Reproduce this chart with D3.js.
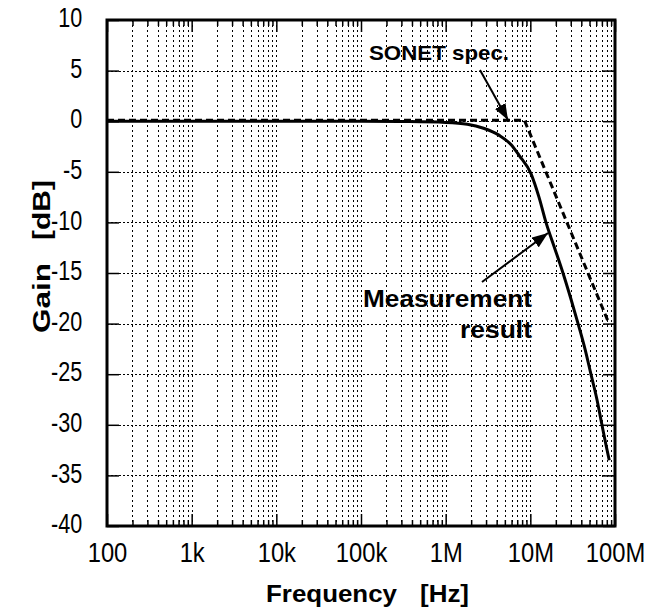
<!DOCTYPE html>
<html>
<head>
<meta charset="utf-8">
<script src="https://cdn.jsdelivr.net/npm/d3@7"></script>
<style>
	body { margin: 0; background: #fff; }
	text { font-family: Arial, "Liberation Sans", Helvetica, sans-serif; fill: #000; }
</style>
</head>
<body>
<svg id="chart" width="652" height="611"></svg>
<script>
// decade ticks and their labels
var decades = [1e2, 1e3, 1e4, 1e5, 1e6, 1e7, 1e8];
var decadeLabels = ["100", "1k", "10k", "100k", "1M", "10M", "100M"];
var gainTicks = [-40, -35, -30, -25, -20, -15, -10, -5, 0, 5, 10];

var measFreq = [100, 1e3, 1e4, 1e5, 3e5, 1e6, 1.8e6, 2.8e6, 4.3e6, 5.9e6, 7.4e6, 10.2e6, 12.65e6, 15.3e6, 19.3e6, 24.3e6, 30e6, 36.6e6, 44.2e6, 52e6, 61.2e6, 70.1e6, 78.3e6, 85.5e6];
var measGain = [0, 0, 0, 0, -0.03, -0.12, -0.3, -0.7, -1.4, -2.3, -3.4, -5.2, -7.5, -10.0, -12.5, -15.0, -17.5, -20.0, -22.5, -25.0, -27.5, -30.0, -32.0, -33.5];

// SONET jitter transfer mask
var specFreq = [100, 8.5e6, 85e6];
var specGain = [0.1, 0.1, -20];

var svg = d3.select("#chart");
var margin = {left: 107, right: 37, top: 20, bottom: 85};
var W = 652, H = 611;

var x = d3.scaleLog().domain([1e2, 1e8]).range([margin.left, W - margin.right]);
var y = d3.scaleLinear().domain([-40, 10]).range([H - margin.bottom, margin.top]);

var x0 = x.range()[0], x1 = x.range()[1];
var y0 = y.range()[0], y1 = y.range()[1];

// minor log ticks 2..9 in each decade
var minors = [];
decades.slice(0, -1).forEach(function (d) {
	for (var k = 2; k <= 9; k++) minors.push(d * k);
});

// grid
var grid = svg.append("g").attr("class", "grid")
	.attr("stroke", "#000").attr("stroke-width", 1);

grid.selectAll("line.v")
	.data(minors.concat(decades.slice(1, -1)))
	.enter().append("line")
	.attr("class", "v")
	.attr("x1", function (d) { return Math.round(x(d)) + 0.5; })
	.attr("x2", function (d) { return Math.round(x(d)) + 0.5; })
	.attr("y1", y1).attr("y2", y0)
	.attr("stroke-dasharray", "2,3");

grid.selectAll("line.h")
	.data(gainTicks.slice(1, -1))
	.enter().append("line")
	.attr("class", "h")
	.attr("x1", x0).attr("x2", x1)
	.attr("y1", function (d) { return Math.round(y(d)) + 0.5; })
	.attr("y2", function (d) { return Math.round(y(d)) + 0.5; })
	.attr("stroke-dasharray", "2,2");

// axes, ticks pointing inside
function styleAxis(g) {
	g.select(".domain").remove();
	g.selectAll(".tick line").attr("stroke", "#000").attr("stroke-width", 1.5);
}

svg.append("g")
	.attr("transform", "translate(0," + y0 + ")")
	.call(d3.axisBottom(x).tickValues(decades)
		.tickFormat(function (d, i) { return decadeLabels[i]; })
		.tickSize(-12).tickPadding(17))
	.call(styleAxis)
	.selectAll("text")
	.attr("font-size", 27)
	.attr("font-family", "Arial, 'Liberation Sans', sans-serif")
	.attr("transform", "scale(0.88,1)");

svg.append("g")
	.attr("transform", "translate(0," + y0 + ")")
	.call(d3.axisBottom(x).tickValues(minors).tickFormat("").tickSize(-6))
	.call(styleAxis);

svg.append("g")
	.attr("transform", "translate(0," + y1 + ")")
	.call(d3.axisTop(x).tickValues(decades).tickFormat("").tickSize(-12))
	.call(styleAxis);

svg.append("g")
	.attr("transform", "translate(0," + y1 + ")")
	.call(d3.axisTop(x).tickValues(minors).tickFormat("").tickSize(-6))
	.call(styleAxis);

// plain hyphen for negatives, like the original
svg.append("g")
	.attr("transform", "translate(" + x0 + ",0)")
	.call(d3.axisLeft(y).tickValues(gainTicks)
		.tickFormat(function (d) { return String(d); })
		.tickSize(-12).tickPadding(31))
	.call(styleAxis)
	.selectAll("text")
	.attr("font-size", 27)
	.attr("font-family", "Arial, 'Liberation Sans', sans-serif")
	.attr("dy", "0.25em")
	.attr("transform", "scale(0.8,1)");

svg.append("g")
	.attr("transform", "translate(" + x1 + ",0)")
	.call(d3.axisRight(y).tickValues(gainTicks).tickFormat("").tickSize(-12))
	.call(styleAxis);

// curves
var line = d3.line()
	.x(function (d) { return x(d[0]); })
	.y(function (d) { return y(d[1]); });

svg.append("path")
	.datum(d3.zip(specFreq, specGain))
	.attr("fill", "none")
	.attr("stroke", "#000")
	.attr("stroke-width", 3)
	.attr("stroke-dasharray", "7,4")
	.attr("d", line);

svg.append("path")
	.datum(d3.zip(measFreq, measGain))
	.attr("fill", "none")
	.attr("stroke", "#000")
	.attr("stroke-width", 3)
	.attr("d", line.curve(d3.curveMonotoneX));

// frame
svg.append("rect")
	.attr("x", x0).attr("y", y1)
	.attr("width", x1 - x0).attr("height", y0 - y1)
	.attr("fill", "none")
	.attr("stroke", "#000")
	.attr("stroke-width", 3);

// annotations
var defs = svg.append("defs");
defs.append("marker")
	.attr("id", "head")
	.attr("markerUnits", "userSpaceOnUse")
	.attr("viewBox", "0 0 16 12")
	.attr("refX", 16).attr("refY", 6)
	.attr("markerWidth", 16).attr("markerHeight", 12)
	.attr("orient", "auto")
	.append("path")
	.attr("d", "M0,0L16,6L0,12Z")
	.attr("fill", "#000");

function arrow(ax, ay, bx, by) {
	svg.append("line")
		.attr("x1", ax).attr("y1", ay)
		.attr("x2", bx).attr("y2", by)
		.attr("stroke", "#000")
		.attr("stroke-width", 2)
		.attr("marker-end", "url(#head)");
}

function label(txt, tx, ty, size, len) {
	return svg.append("text")
		.attr("x", tx).attr("y", ty)
		.attr("font-size", size)
		.attr("font-weight", "bold")
		.attr("textLength", len)
		.attr("lengthAdjust", "spacingAndGlyphs")
		.text(txt);
}

arrow(480, 70, 508, 120);
arrow(482, 282, 548, 233);

label("SONET spec.", 369, 60, 21, 140);
label("Measurement", 363, 307, 24.5, 169);
label("result", 460, 338, 24.5, 72);

label("Frequency", 266, 602, 23, 131);
label("[Hz]", 420, 602, 23, 49);

svg.append("g")
	.attr("transform", "translate(50,0) rotate(-90)")
	.call(function (g) {
		g.append("text").attr("x", -333).attr("y", 0)
			.attr("font-size", 23).attr("font-weight", "bold")
			.attr("textLength", 70).attr("lengthAdjust", "spacingAndGlyphs")
			.text("Gain");
		g.append("text").attr("x", -240).attr("y", 0)
			.attr("font-size", 23).attr("font-weight", "bold")
			.attr("textLength", 60).attr("lengthAdjust", "spacingAndGlyphs")
			.text("[dB]");
	});
</script>
</body>
</html>
